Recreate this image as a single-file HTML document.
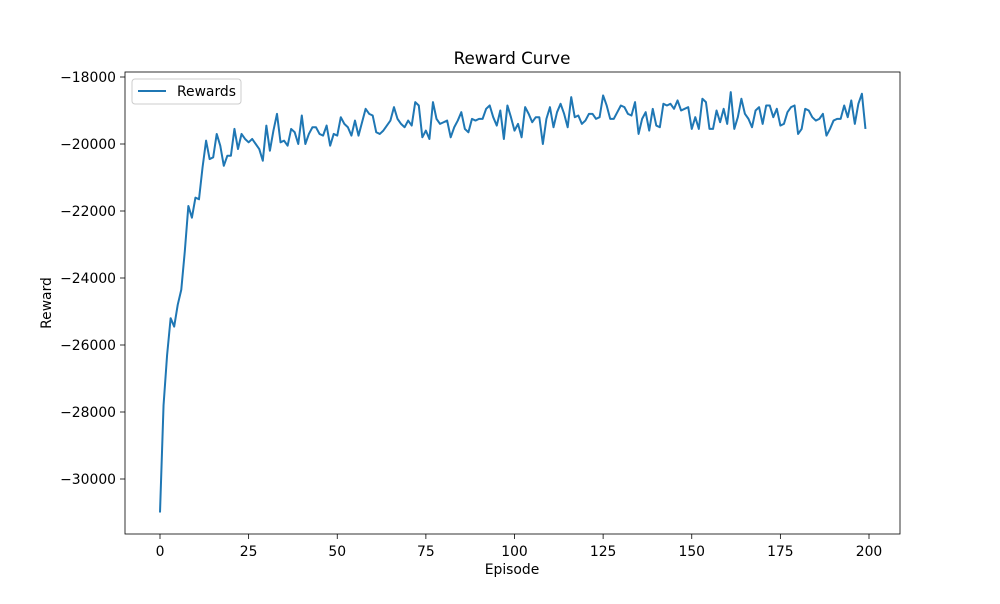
<!DOCTYPE html>
<html><head><meta charset="utf-8"><style>
body{margin:0;background:#fff;font-family:"DejaVu Sans","Liberation Sans",sans-serif}
svg text{font-family:"DejaVu Sans","Liberation Sans",sans-serif}
</style></head><body>
<svg id="chart" width="1000" height="600" viewBox="0 0 1000 600">
<rect width="1000" height="600" fill="#fff"/>
<text x="512" y="64" font-size="16.7" text-anchor="middle">Reward Curve</text>
<g id="ticks"></g>
<polyline id="line" fill="none" stroke="#1f77b4" stroke-width="2" stroke-linejoin="round"/>
<rect x="125" y="72" width="775" height="462" fill="none" stroke="#000" stroke-width="0.8"/>
<text x="512" y="574" font-size="13.9" text-anchor="middle">Episode</text>
<text x="51" y="303" font-size="13.9" text-anchor="middle" transform="rotate(-90 51 303)">Reward</text>
<g>
<rect x="132" y="79" width="109" height="25" rx="3" fill="#fff" stroke="#ccc" stroke-width="1"/>
<line x1="138" y1="91" x2="166" y2="91" stroke="#1f77b4" stroke-width="2"/>
<text x="177" y="96" font-size="13.9">Rewards</text>
</g>
</svg>
<script>
const episodes = Array.from({length:200},(_,i)=>i);
const rewards = [-31000,-27800,-26300,-25200,-25450,-24800,-24350,-23200,-21850,-22200,-21600,-21650,-20700,-19900,-20450,-20400,-19700,-20050,-20650,-20350,-20350,-19550,-20150,-19700,-19850,-19950,-19850,-20000,-20150,-20500,-19450,-20200,-19600,-19100,-19950,-19900,-20050,-19550,-19650,-20000,-19150,-20000,-19700,-19500,-19500,-19700,-19750,-19450,-20050,-19700,-19750,-19200,-19400,-19500,-19750,-19300,-19750,-19350,-18950,-19100,-19150,-19650,-19700,-19600,-19450,-19300,-18900,-19250,-19400,-19500,-19300,-19450,-18750,-18850,-19800,-19600,-19850,-18750,-19250,-19400,-19350,-19300,-19800,-19500,-19300,-19050,-19550,-19650,-19250,-19300,-19250,-19250,-18950,-18850,-19200,-19450,-19000,-19850,-18850,-19200,-19600,-19400,-19800,-18900,-19100,-19350,-19200,-19200,-20000,-19250,-18900,-19500,-19050,-18800,-19100,-19500,-18600,-19200,-19150,-19400,-19300,-19100,-19100,-19250,-19200,-18550,-18850,-19250,-19250,-19050,-18850,-18900,-19100,-19150,-18750,-19700,-19250,-19050,-19600,-18950,-19450,-19500,-18800,-18850,-18800,-18950,-18700,-19000,-18950,-18900,-19550,-19200,-19550,-18650,-18750,-19550,-19550,-19000,-19350,-18950,-19400,-18450,-19550,-19200,-18650,-19100,-19250,-19500,-19000,-18900,-19400,-18850,-18850,-19200,-18950,-19450,-19400,-19050,-18900,-18850,-19700,-19550,-18950,-19000,-19200,-19300,-19250,-19100,-19750,-19550,-19300,-19250,-19250,-18850,-19200,-18700,-19400,-18800,-18500,-19550];
const xTicks = [0,25,50,75,100,125,150,175,200];
const yTicks = [-30000,-28000,-26000,-24000,-22000,-20000,-18000];
const xs = v => 160 + (869-160)*v/200;
const ys = v => 77 + (-18000 - v)*(402/12000);
const NS="http://www.w3.org/2000/svg";
const g=document.getElementById('ticks');
function mk(t,a){const e=document.createElementNS(NS,t);for(const k in a)e.setAttribute(k,a[k]);g.appendChild(e);return e;}
xTicks.forEach(v=>{const x=xs(v);
 const l=mk('line',{x1:x,x2:x,y1:534,y2:539,stroke:'#000','stroke-width':0.8});
 
 
 const t=mk('text',{x:x,y:556,'font-size':13.9,'text-anchor':'middle'});t.textContent=v;
 
 
});
yTicks.forEach(v=>{const y=ys(v);
 const l=mk('line',{x1:120,x2:125,y1:y,y2:y,stroke:'#000','stroke-width':0.8});
 
 
 const t=mk('text',{x:116,y:y+5,'font-size':13.9,'text-anchor':'end'});t.textContent='\u2212'+Math.abs(v);
 
 
});
document.getElementById('line').setAttribute('points',rewards.map((v,i)=>xs(episodes[i])+','+ys(v)).join(' '));
</script>
</body></html>
